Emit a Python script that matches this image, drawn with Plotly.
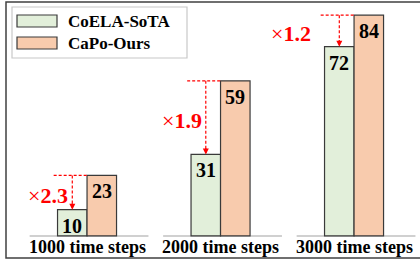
import plotly.graph_objects as go

categories = ["1000 time steps", "2000 time steps", "3000 time steps"]
series_names = ["CoELA-SoTA", "CaPo-Ours"]
coela = [10, 31, 72]
capo = [23, 59, 84]
ratios = ["×2.3", "×1.9", "×1.2"]

GREEN = "#e2efda"
ORANGE = "#f8cbad"
EDGE = "#3a3a3a"
RED = "#ff0000"
FONT = "Liberation Serif"

W, H = 420, 262
ML, MR, MT, MB = 6, 0, 2, 4
PW, PH = W - ML - MR, H - MT - MB


def px(xp):
    return (xp - ML) / PW


def py(yp):
    return (H - MB - yp) / PH


fig = go.Figure()
for name, vals, col in [(series_names[0], coela, GREEN), (series_names[1], capo, ORANGE)]:
    fig.add_trace(go.Bar(
        x=categories, y=vals, name=name,
        marker=dict(color=col, line=dict(color=EDGE, width=1.2)),
        showlegend=False, hoverinfo="skip",
    ))

BW = (1 - 0.558) / 2
shapes = []
annotations = []

# outer frame
shapes.append(dict(type="rect", xref="paper", yref="paper", x0=0, x1=1.05, y0=0, y1=1,
                   line=dict(color="#404040", width=1.5), fillcolor="rgba(0,0,0,0)", layer="above"))

for i, cat in enumerate(categories):
    # baseline segment
    shapes.append(dict(type="line", xref="x", yref="y", x0=i - 0.43, x1=i + 0.46, y0=0, y1=0,
                       line=dict(color="#c0c0c0", width=1.5), layer="below"))
    # category label
    annotations.append(dict(x=i, y=-4.3, xref="x", yref="y", text=f"<b>{cat}</b>", showarrow=False,
                            font=dict(family=FONT, size=18, color="black"), yanchor="middle"))
    # data labels
    for vals, off in [(coela, -BW / 2), (capo, BW / 2)]:
        annotations.append(dict(x=i + off, y=vals[i], xref="x", yref="y", text=f"<b>{vals[i]}</b>",
                                showarrow=False, yanchor="top", yshift=-3,
                                font=dict(family=FONT, size=20, color="black")))
    # red dashed guides
    shapes.append(dict(type="line", xref="x", yref="y", x0=i - 0.25, x1=i, y0=capo[i], y1=capo[i],
                       line=dict(color=RED, width=1.2, dash="3px,2px")))
    shapes.append(dict(type="line", xref="x", yref="y", x0=i - BW / 2, x1=i - BW / 2,
                       y0=capo[i], y1=coela[i] + 2,
                       line=dict(color=RED, width=1.2, dash="3px,2px")))
    annotations.append(dict(x=i - BW / 2, y=coela[i], xref="x", yref="y", text="", showarrow=True,
                            ax=0, ay=-8, arrowhead=2, arrowsize=1, arrowwidth=1.2, arrowcolor=RED,
                            standoff=0))

ratio_shift = [-39, -39, -63]
for i, r in enumerate(ratios):
    annotations.append(dict(x=i, y=(coela[i] + capo[i]) / 2, xref="x", yref="y", xshift=ratio_shift[i],
                            yshift=-3, text=f"{r[0]}<b>{r[1:]}</b>", showarrow=False,
                            font=dict(family=FONT, size=22, color=RED)))

# custom legend
shapes.append(dict(type="rect", xref="paper", yref="paper", x0=px(12), x1=px(187), y0=py(58), y1=py(7),
                   line=dict(color="#c8c8c8", width=1.2), fillcolor="white", layer="above"))
for k, (name, col) in enumerate(zip(series_names, [GREEN, ORANGE])):
    yc = 21 + 22 * k
    shapes.append(dict(type="rect", xref="paper", yref="paper", x0=px(17), x1=px(57),
                       y0=py(yc + 6), y1=py(yc - 6),
                       line=dict(color=EDGE, width=1.2), fillcolor=col, layer="above"))
    annotations.append(dict(x=px(66), y=py(yc), xref="paper", yref="paper", text=f"<b>{name}</b>",
                            showarrow=False, xanchor="left", yanchor="middle",
                            font=dict(family=FONT, size=17, color="black")))

fig.update_layout(
    width=W, height=H,
    margin=dict(l=ML, r=MR, t=MT, b=MB, pad=0),
    paper_bgcolor="white", plot_bgcolor="white",
    barmode="group", bargap=0.558, bargroupgap=0,
    xaxis=dict(range=[-0.607, 2.494], showticklabels=False, showgrid=False, zeroline=False,
               showline=False, ticks=""),
    yaxis=dict(range=[-8.4, 89], showticklabels=False, showgrid=False, zeroline=False,
               showline=False, ticks=""),
    shapes=shapes, annotations=annotations,
)

fig.write_html("out.html", config={"displayModeBar": False},
               post_script="document.body.style.margin='0';document.body.style.overflow='hidden';")
